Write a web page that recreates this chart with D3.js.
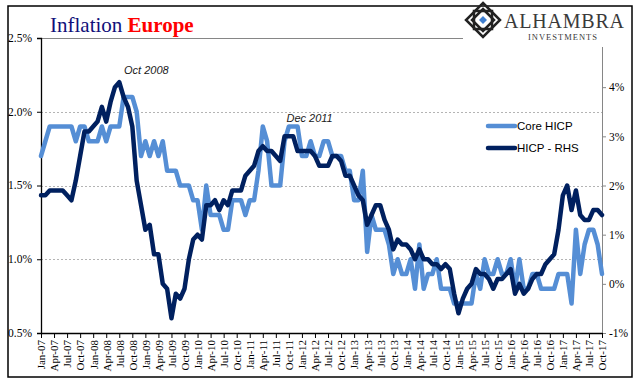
<!DOCTYPE html>
<html>
<head>
<meta charset="utf-8">
<title>Inflation Europe</title>
<script src="https://cdn.jsdelivr.net/npm/d3@7"></script>
<style>
  body { margin: 0; background: #fff; }
  svg { display: block; }
</style>
</head>
<body>
<div id="chart"></div>
<script>
// monthly data, Jan-07 .. Oct-17
const months = d3.utcMonths(new Date(Date.UTC(2007, 0, 1)), new Date(Date.UTC(2017, 10, 1)));

// Core HICP, % y/y (left axis)
const coreHicp = [
  1.7, 1.8, 1.9, 1.9, 1.9, 1.9, 1.9, 1.9, 1.8, 1.9, 1.9, 1.8,
  1.8, 1.8, 1.9, 1.8, 1.9, 1.9, 1.9, 2.1, 2.1, 2.1, 2.0, 1.7,
  1.8, 1.7, 1.8, 1.7, 1.8, 1.6, 1.6, 1.6, 1.5, 1.5, 1.5, 1.4,
  1.4, 1.2, 1.5, 1.3, 1.3, 1.3, 1.2, 1.2, 1.4, 1.4, 1.4, 1.3,
  1.4, 1.4, 1.6, 1.9, 1.8, 1.5, 1.5, 1.5, 1.8, 1.9, 1.9, 1.9,
  1.7, 1.7, 1.8, 1.7, 1.7, 1.8, 1.8, 1.7, 1.7, 1.7, 1.6, 1.6,
  1.4, 1.4, 1.6, 1.05, 1.3, 1.2, 1.2, 1.2, 1.1, 0.9, 1.0, 0.9,
  0.9, 1.0, 0.8, 1.1, 0.8, 0.9, 0.9, 1.0, 0.8, 0.8, 0.8, 0.7,
  0.7, 0.7, 0.7, 0.7, 0.9, 0.8, 1.0, 0.9, 0.9, 1.0, 0.9, 0.9,
  1.0, 0.8, 1.0, 0.8, 0.8, 0.9, 0.9, 0.8, 0.8, 0.8, 0.8, 0.9,
  0.9, 0.9, 0.7, 1.2, 0.9, 1.1, 1.2, 1.2, 1.1, 0.9
];

// Headline HICP, % y/y (right axis)
const hicp = [
  1.8, 1.8, 1.9, 1.9, 1.9, 1.9, 1.8, 1.7, 2.1, 2.6, 3.1, 3.1,
  3.2, 3.3, 3.6, 3.3, 3.7, 4.0, 4.1, 3.8, 3.6, 3.2, 2.1, 1.6,
  1.1, 1.2, 0.6, 0.6, 0.0, -0.1, -0.7, -0.2, -0.3, -0.1, 0.5, 0.9,
  1.0, 0.9, 1.6, 1.6, 1.7, 1.5, 1.7, 1.6, 1.9, 1.9, 1.9, 2.2,
  2.3, 2.4, 2.7, 2.8, 2.7, 2.7, 2.6, 2.5, 3.0, 3.0, 3.0, 2.7,
  2.7, 2.7, 2.7, 2.6, 2.4, 2.4, 2.4, 2.6, 2.6, 2.5, 2.2, 2.2,
  2.0, 1.8, 1.7, 1.2, 1.4, 1.6, 1.6, 1.3, 1.1, 0.7, 0.9, 0.8,
  0.8, 0.7, 0.5, 0.7, 0.5, 0.5, 0.4, 0.4, 0.3, 0.4, 0.3, -0.2,
  -0.6, -0.3, -0.1, 0.0, 0.3, 0.2, 0.2, 0.1, -0.1, 0.1, 0.1, 0.2,
  0.3, -0.2, 0.0, -0.2, -0.1, 0.1, 0.2, 0.2, 0.4, 0.5, 0.6, 1.1,
  1.8, 2.0, 1.5, 1.9, 1.4, 1.3, 1.3, 1.5, 1.5, 1.4
];

const leftTicks = [0.5, 1.0, 1.5, 2.0, 2.5];
const rightTicks = [-1, 0, 1, 2, 3, 4];
const annotations = [
  { label: "Oct 2008", month: "2008-10", dx: 14, y: 74 },
  { label: "Dec 2011", month: "2011-12", dx: 12, y: 122 }
];

const width = 641, height = 381;
const marginLeft = 41, marginRight = 39, marginTop = 38, marginBottom = 48;

const x = d3.scaleLinear().domain([0, months.length - 1]).range([marginLeft, width - marginRight]);
const yL = d3.scaleLinear().domain([0.5, 2.5]).range([height - marginBottom, marginTop]);
const yR = d3.scaleLinear().domain([-1, 5]).range([height - marginBottom, marginTop]);

const lightBlue = "#558ed5", navy = "#00205f";
const fmtMonth = d3.utcFormat("%b-%y");
const fmtKey = d3.utcFormat("%Y-%m");

const svg = d3.select("#chart").append("svg")
  .attr("width", width).attr("height", height)
  .attr("viewBox", [0, 0, width, height]);

// outer frame
svg.append("rect")
  .attr("x", 8).attr("y", 6).attr("width", 624).attr("height", 371)
  .attr("fill", "#fff").attr("stroke", "#000").attr("stroke-width", 1.5);

// gridlines
svg.append("g")
  .selectAll("line").data(leftTicks).join("line")
  .attr("x1", marginLeft).attr("x2", width - marginRight)
  .attr("y1", d => Math.round(yL(d)) + 0.5).attr("y2", d => Math.round(yL(d)) + 0.5)
  .attr("stroke", d => d === 2.5 ? "#868686" : "#b4b4b4")
  .attr("stroke-dasharray", d => d === 2.5 ? null : "2,2")
  .attr("stroke-width", d => d === 0.5 ? 0 : 1);

// right axis (grey)
svg.append("g")
  .attr("transform", `translate(${width - marginRight},0)`)
  .call(d3.axisRight(yR).tickValues(rightTicks).tickFormat(d => d + "%").tickSize(4).tickPadding(3))
  .call(g => g.selectAll("line, path").attr("stroke", "#868686"))
  .call(g => g.selectAll("text").attr("font-family", "Liberation Serif, serif").attr("font-size", 11.5).attr("fill", "#000"));

// left axis
svg.append("g")
  .attr("transform", `translate(${marginLeft},0)`)
  .call(d3.axisLeft(yL).tickValues(leftTicks).tickSize(4).tickPadding(5)
    .tickFormat(d => d.toFixed(1) + "%"))
  .call(g => g.select(".domain").attr("stroke", "#000").attr("stroke-width", 1.3))
  .call(g => g.selectAll("text").attr("font-family", "Liberation Serif, serif").attr("font-size", 11.5).attr("fill", "#000").attr("dy", "0.3em"));

// bottom axis, tick every 3 months
const qIdx = d3.range(0, months.length, 3);
svg.append("g")
  .attr("transform", `translate(0,${height - marginBottom})`)
  .call(d3.axisBottom(x).tickValues(qIdx).tickFormat(i => fmtMonth(months[i])).tickSize(5).tickSizeOuter(0))
  .call(g => g.select(".domain").attr("stroke", "#000").attr("stroke-width", 1.3))
  .call(g => g.selectAll(".tick text")
    .attr("font-family", "Liberation Serif, serif").attr("font-size", 11)
    .attr("transform", "rotate(-90)").attr("text-anchor", "end")
    .attr("x", -7).attr("y", 0).attr("dy", "0.35em").attr("fill", "#000"));

// lines
const lineL = d3.line().x((d, i) => x(i)).y(d => yL(d));
const lineR = d3.line().x((d, i) => x(i)).y(d => yR(d));

svg.append("path").datum(coreHicp)
  .attr("fill", "none").attr("stroke", lightBlue).attr("stroke-width", 4.5)
  .attr("stroke-linejoin", "round").attr("stroke-linecap", "round")
  .attr("d", lineL);

svg.append("path").datum(hicp)
  .attr("fill", "none").attr("stroke", navy).attr("stroke-width", 4.5)
  .attr("stroke-linejoin", "round").attr("stroke-linecap", "round")
  .attr("d", lineR);

// annotations
const annoFont = "Liberation Sans, Arial, sans-serif";
annotations.forEach(a => {
  const i = months.findIndex(m => fmtKey(m) === a.month);
  svg.append("text")
    .attr("x", x(i) + a.dx).attr("y", a.y)
    .attr("text-anchor", "middle")
    .attr("font-family", annoFont).attr("font-style", "italic").attr("font-size", 11)
    .attr("fill", "#1a1a1a")
    .text(a.label);
});

// legend
const legend = [
  { label: "Core HICP", color: lightBlue, y: 126 },
  { label: "HICP - RHS", color: navy, y: 148 }
];
const lg = svg.append("g");
lg.selectAll("line").data(legend).join("line")
  .attr("x1", 488).attr("x2", 515)
  .attr("y1", d => d.y).attr("y2", d => d.y)
  .attr("stroke", d => d.color).attr("stroke-width", 4.5).attr("stroke-linecap", "round");
lg.selectAll("text").data(legend).join("text")
  .attr("x", 517).attr("y", d => d.y).attr("dy", "0.35em")
  .attr("font-family", annoFont).attr("font-size", 11.5).attr("fill", "#000")
  .text(d => d.label);

// title
const title = svg.append("text").attr("x", 50).attr("y", 32)
  .attr("font-family", "Liberation Serif, serif").attr("font-size", 21);
title.append("tspan").attr("fill", "#10107a").text("Inflation ");
title.append("tspan").attr("fill", "#ff0000").attr("font-weight", "bold").text("Europe");

// logo
const logo = svg.append("g");
logo.append("rect").attr("x", 463).attr("y", 7).attr("width", 168).attr("height", 40).attr("fill", "#fff");
const cx = 483, cy = 20, r = 17;
const diamond = s => `M${cx},${cy - s}L${cx + s},${cy}L${cx},${cy + s}L${cx - s},${cy}Z`;
logo.append("path").attr("d", diamond(r)).attr("fill", "none").attr("stroke", "#222").attr("stroke-width", 2.5);
logo.append("path").attr("d", diamond(r - 6)).attr("fill", "none").attr("stroke", "#222").attr("stroke-width", 2.5);
logo.append("rect").attr("x", cx - 9).attr("y", cy - 9).attr("width", 18).attr("height", 18)
  .attr("fill", "none").attr("stroke", "#222").attr("stroke-width", 2.5);
logo.append("path").attr("d", diamond(4)).attr("fill", "#3f7fd0");
logo.append("text").attr("x", 504).attr("y", 28)
  .attr("font-family", "Liberation Serif, serif").attr("font-size", 20).attr("fill", "#3a3a3a")
  .attr("letter-spacing", 0.8).text("ALHAMBRA");
logo.append("text").attr("x", 528).attr("y", 40)
  .attr("font-family", "Liberation Serif, serif").attr("font-size", 8.5).attr("fill", "#3a3a3a")
  .attr("letter-spacing", 1).text("INVESTMENTS");
</script>
</body>
</html>
